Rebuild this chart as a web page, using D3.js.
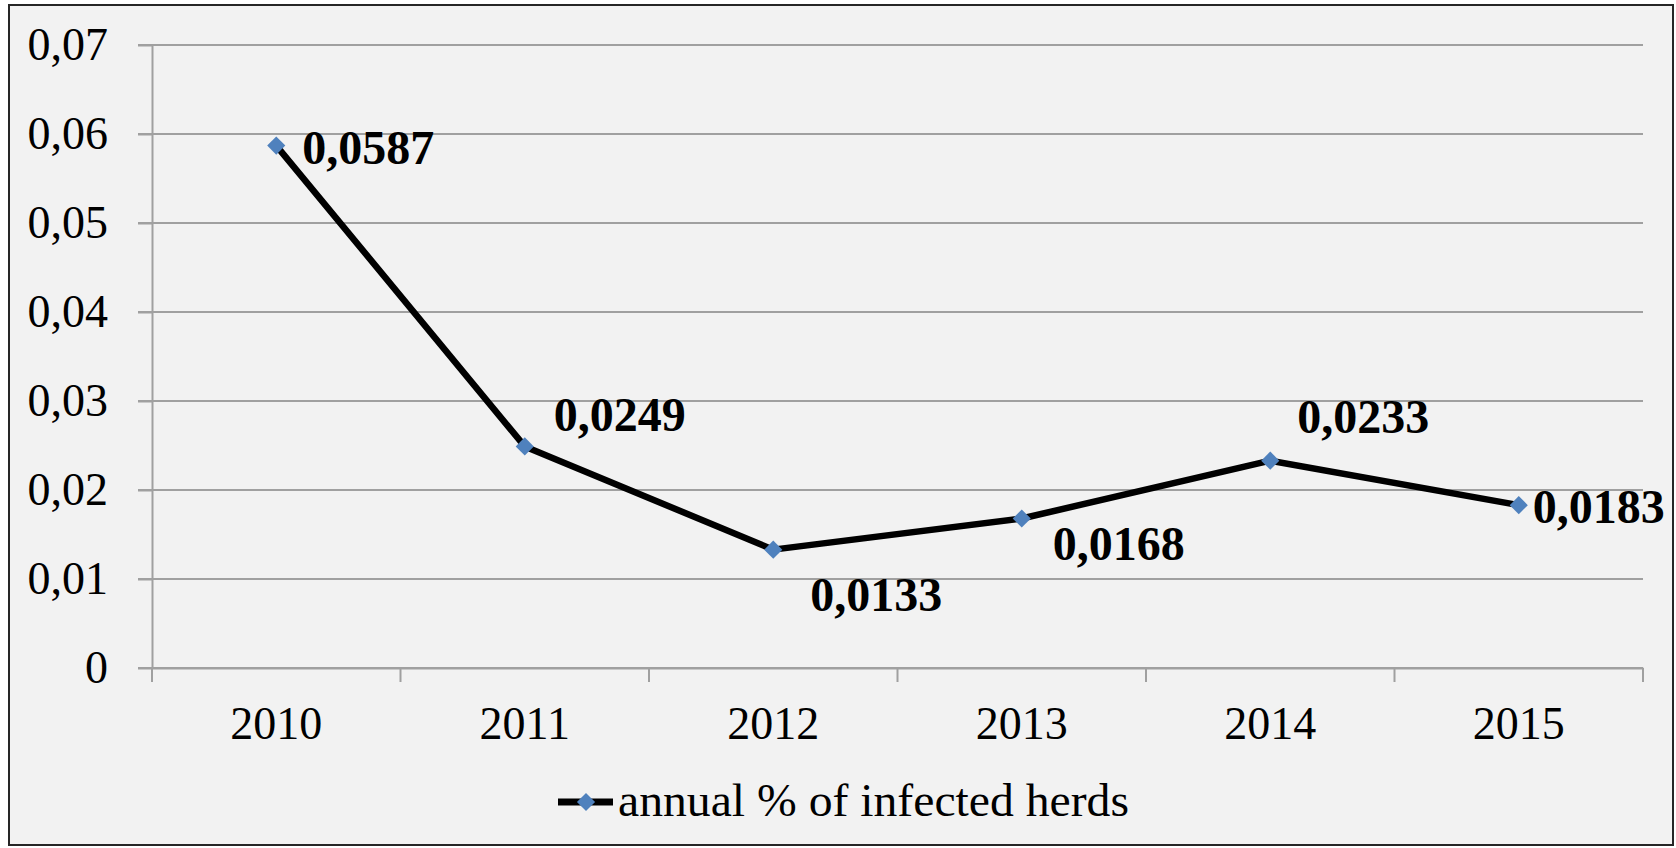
<!DOCTYPE html>
<html>
<head>
<meta charset="utf-8">
<script src="https://cdn.jsdelivr.net/npm/d3@7"></script>
<style>
  body { margin: 0; background: #fff; }
  svg text { font-family: "Liberation Serif", "Times New Roman", serif; }
</style>
</head>
<body>
<div id="chart"></div>
<script>
// data
var years = ["2010", "2011", "2012", "2013", "2014", "2015"];
var infected = [0.0587, 0.0249, 0.0133, 0.0168, 0.0233, 0.0183];
var labelText = ["0,0587", "0,0249", "0,0133", "0,0168", "0,0233", "0,0183"];
var yTicks = [0, 0.01, 0.02, 0.03, 0.04, 0.05, 0.06, 0.07];
var yTickLabels = ["0", "0,01", "0,02", "0,03", "0,04", "0,05", "0,06", "0,07"];
var seriesName = "annual % of infected herds";

// label placement relative to the point (dx, dy of baseline)
var labelOffsets = [[26, 18], [29, -15], [37, 61], [31, 42], [27, -28], [14, 18]];

var W = 1676, H = 848;
var plotLeft = 152, plotRight = 1643, plotTop = 45, plotBottom = 668;

var svg = d3.select("#chart")
  .append("svg")
  .attr("width", W)
  .attr("height", H);

// background + frame
svg.append("rect")
  .attr("x", 9).attr("y", 5)
  .attr("width", 1664).attr("height", 840)
  .attr("fill", "#f2f2f2")
  .attr("stroke", "#262626")
  .attr("stroke-width", 2);

var x = d3.scaleBand()
  .domain(years)
  .range([plotLeft, plotRight])
  .padding(0);

var y = d3.scaleLinear()
  .domain([0, 0.07])
  .range([plotBottom, plotTop]);

// gridlines
svg.selectAll(".grid")
  .data(yTicks)
  .enter()
  .append("line")
  .attr("x1", plotLeft - 14)
  .attr("x2", plotRight)
  .attr("y1", function (d) { return y(d) })
  .attr("y2", function (d) { return y(d) })
  .attr("stroke", "#a0a0a0")
  .attr("stroke-width", 2);

// Y axis
var yAxis = svg.append("g")
  .attr("transform", "translate(" + plotLeft + ",0)")
  .call(d3.axisLeft(y)
    .tickValues(yTicks)
    .tickSize(14)
    .tickSizeOuter(0)
    .tickPadding(30)
    .tickFormat(function (d, i) { return yTickLabels[i] }));
yAxis.selectAll("line").attr("stroke", "#a0a0a0").attr("stroke-width", 2);
yAxis.select(".domain").attr("stroke", "#a0a0a0").attr("stroke-width", 2);
yAxis.selectAll("text")
  .style("font-size", "46px")
  .attr("fill", "#000")
  .attr("font-family", "Liberation Serif");

// X axis
var xAxis = svg.append("g")
  .attr("transform", "translate(0," + plotBottom + ")")
  .call(d3.axisBottom(x)
    .tickSize(0)
    .tickSizeOuter(0)
    .tickPadding(38));
xAxis.select(".domain").attr("stroke", "#a0a0a0").attr("stroke-width", 2);
xAxis.selectAll("text")
  .style("font-size", "46px")
  .attr("fill", "#000")
  .attr("font-family", "Liberation Serif");

// boundary ticks between categories
var bounds = years.map(function (d) { return x(d) }).concat([x.range()[1]]);
xAxis.selectAll(".btick")
  .data(bounds)
  .enter()
  .append("line")
  .attr("x1", function (d) { return d })
  .attr("x2", function (d) { return d })
  .attr("y1", 0)
  .attr("y2", 14)
  .attr("stroke", "#a0a0a0")
  .attr("stroke-width", 2);

var cx = function (d, i) { return x(years[i]) + x.bandwidth() / 2 };

// line
var line = d3.line()
  .x(function (d, i) { return cx(d, i) })
  .y(function (d) { return y(d) });
svg.append("path")
  .datum(infected)
  .attr("d", line)
  .attr("fill", "none")
  .attr("stroke", "#000")
  .attr("stroke-width", 6.5)
  .attr("stroke-linejoin", "round");

// markers
var diamond = d3.symbol().type(d3.symbolDiamond2).size(210);
svg.selectAll(".pt")
  .data(infected)
  .enter()
  .append("path")
  .attr("d", diamond)
  .attr("transform", function (d, i) { return "translate(" + cx(d, i) + "," + y(d) + ")" })
  .attr("fill", "#4f81bd");

// data labels
svg.selectAll(".lbl")
  .data(infected)
  .enter()
  .append("text")
  .attr("x", function (d, i) { return cx(d, i) + labelOffsets[i][0] })
  .attr("y", function (d, i) { return y(d) + labelOffsets[i][1] })
  .text(function (d, i) { return labelText[i] })
  .style("font-size", "48px")
  .style("font-weight", "bold")
  .attr("fill", "#000");

// legend
var lg = svg.append("g").attr("transform", "translate(558,802)");
lg.append("line")
  .attr("x1", 0).attr("x2", 55)
  .attr("y1", 0).attr("y2", 0)
  .attr("stroke", "#000")
  .attr("stroke-width", 7);
lg.append("path")
  .attr("d", diamond)
  .attr("transform", "translate(28,0)")
  .attr("fill", "#4f81bd");
lg.append("text")
  .attr("x", 60)
  .attr("y", 14)
  .attr("textLength", 511)
  .attr("lengthAdjust", "spacingAndGlyphs")
  .text(seriesName)
  .style("font-size", "47px")
  .attr("fill", "#000");
</script>
</body>
</html>
